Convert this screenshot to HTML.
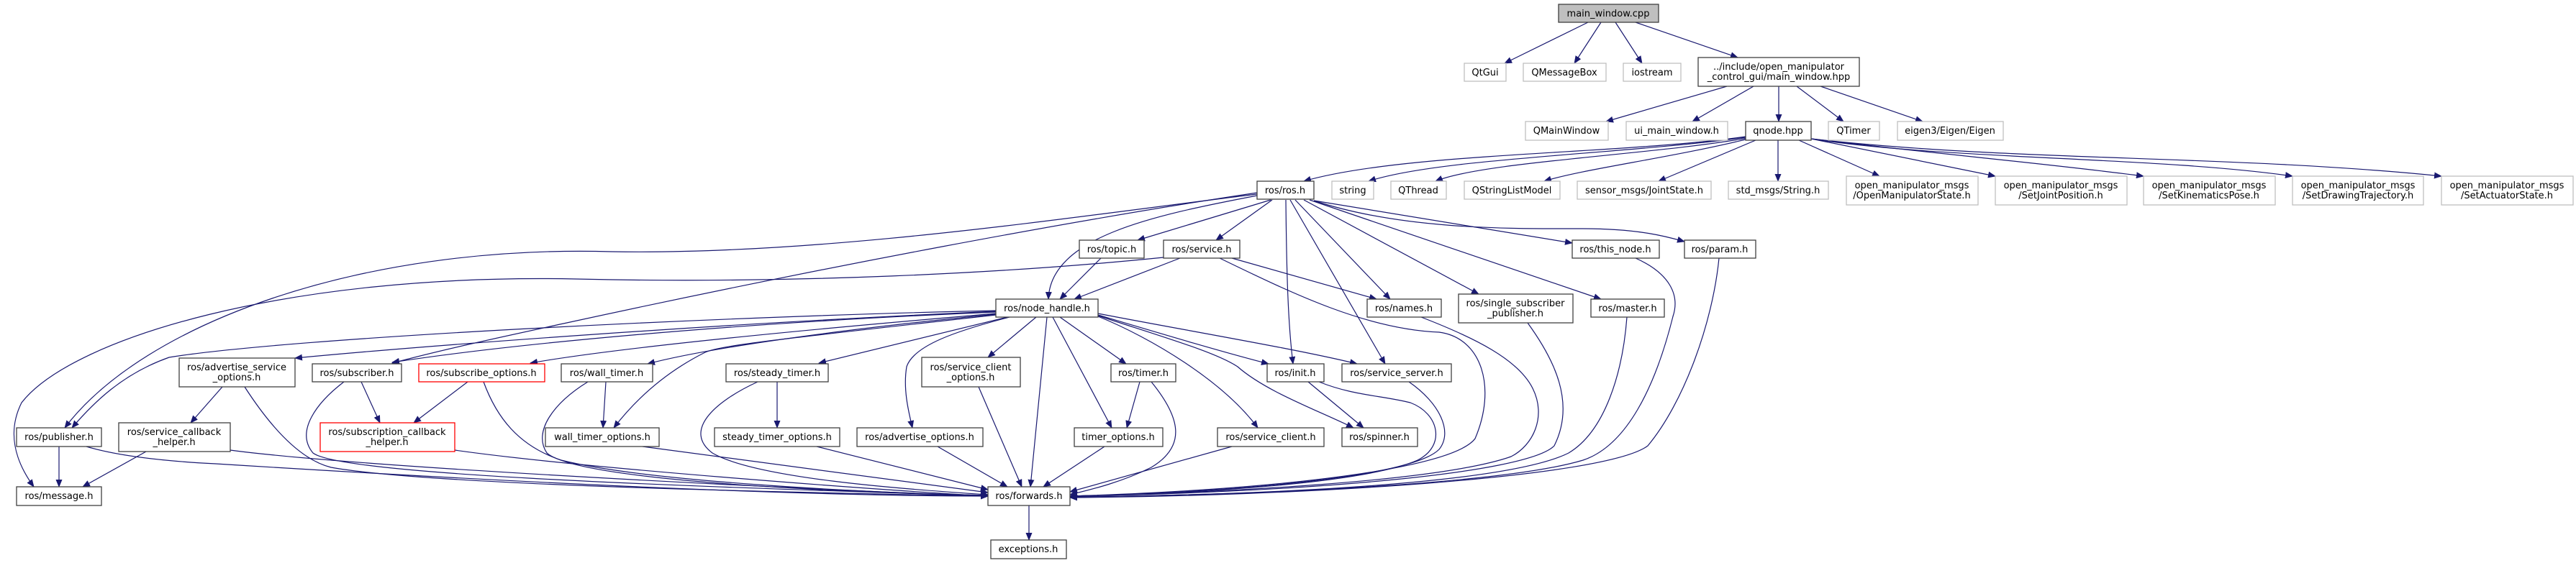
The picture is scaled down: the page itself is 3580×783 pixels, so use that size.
<!DOCTYPE html>
<html><head><meta charset="utf-8"><style>
html,body{margin:0;padding:0;background:#fff;width:3580px;height:783px;overflow:hidden}
svg{display:block}
text{font-family:"DejaVu Sans","Liberation Sans",sans-serif;font-size:13px;fill:#000;text-anchor:middle}
.g{fill:#fff;stroke:#bfbfbf;stroke-width:1.3}
.b{fill:#fff;stroke:#404040;stroke-width:1.3}
.r{fill:#fff;stroke:#ff0000;stroke-width:1.3}
path.e{fill:none;stroke:#191970;stroke-width:1.2;marker-end:url(#a)}
</style></head><body>
<svg width="3580" height="783" viewBox="0 0 3580 783" xmlns="http://www.w3.org/2000/svg">
<defs><marker id="a" markerWidth="11" markerHeight="9" refX="10" refY="4.5" orient="auto" markerUnits="userSpaceOnUse"><path d="M0,0 L11,4.5 L0,9z" fill="#191970"/></marker></defs>

<!-- edges -->
<path class="e" d="M2207,31 L2091,88"/>
<path class="e" d="M2225,31 L2188,88"/>
<path class="e" d="M2245,31 L2282,88"/>
<path class="e" d="M2273,31 L2415,80"/>
<path class="e" d="M2400,120 L2232,169"/>
<path class="e" d="M2437,120 L2352,169"/>
<path class="e" d="M2472,120 L2472,169"/>
<path class="e" d="M2497,120 L2562,169"/>
<path class="e" d="M2530,120 L2672,169"/>
<path class="e" d="M2426,190 C2250,215 1950,212 1812,252"/>
<path class="e" d="M2426,191 C2250,215 2000,220 1902,252"/>
<path class="e" d="M2428,192 C2300,215 2060,225 1995,252"/>
<path class="e" d="M2430,193 C2320,220 2200,235 2146,252"/>
<path class="e" d="M2440,195 L2305,252"/>
<path class="e" d="M2471,195 L2471,252"/>
<path class="e" d="M2500,195 L2612,245"/>
<path class="e" d="M2517,193 L2773,245"/>
<path class="e" d="M2517,193 C2700,215 2850,228 2979,245"/>
<path class="e" d="M2517,193 C2700,222 3000,218 3186,245"/>
<path class="e" d="M2517,193 C2800,225 3100,215 3393,245"/>

<path class="e" d="M1766,278 L1581,334"/>
<path class="e" d="M1768,278 L1690,334"/>
<path class="e" d="M1747,272 C1600,300 1460,330 1457,416"/>
<path class="e" d="M1826,279 L2185,338"/>
<path class="e" d="M1826,279 C1950,320 2100,318 2200,318 C2280,318 2320,330 2341,336"/>
<path class="e" d="M1800,278 L1932,416"/>
<path class="e" d="M1812,278 L2055,409"/>
<path class="e" d="M1820,278 L2225,416"/>
<path class="e" d="M1787,278 C1788,380 1790,450 1797,506"/>
<path class="e" d="M1793,278 L1925,506"/>
<path class="e" d="M1747,270 C1500,300 1150,355 850,350 C500,340 200,450 90,595"/>
<path class="e" d="M1747,268 C1500,305 1150,370 783,450 C700,468 620,485 545,505"/>
<path class="e" d="M1617,358 C1400,380 1100,395 800,388 C400,380 100,470 30,560 C10,600 20,640 47,677"/>

<path class="e" d="M1384,432 C1000,440 400,470 235,497 C170,520 130,560 100,595"/>
<path class="e" d="M1384,433 C1000,450 600,480 410,498"/>
<path class="e" d="M1384,434 C1000,450 700,480 545,504"/>
<path class="e" d="M1384,436 C1100,460 850,485 737,505"/>
<path class="e" d="M1384,437 C1150,460 980,485 900,506"/>
<path class="e" d="M1384,438 C1100,470 1000,480 980,490 C920,520 880,560 853,595"/>
<path class="e" d="M1400,441 L1138,505"/>
<path class="e" d="M1403,441 C1330,460 1270,480 1260,510 C1255,540 1262,570 1268,595"/>
<path class="e" d="M1440,441 L1373,497"/>
<path class="e" d="M1455,441 L1432,677"/>
<path class="e" d="M1463,441 L1545,595"/>
<path class="e" d="M1473,441 L1565,506"/>
<path class="e" d="M1526,438 C1600,460 1700,490 1763,506"/>
<path class="e" d="M1526,436 C1650,460 1800,485 1886,506"/>
<path class="e" d="M1526,440 C1600,470 1700,530 1748,595"/>
<path class="e" d="M1526,439 C1620,470 1690,490 1720,510 C1760,545 1830,570 1881,595"/>

<path class="e" d="M1640,359 L1493,416"/>
<path class="e" d="M1712,359 L1913,416"/>
<path class="e" d="M1695,359 C1800,410 1900,458 2000,462 C2060,470 2080,540 2050,610 C2020,650 1800,680 1487,690"/>
<path class="e" d="M1530,359 L1473,416"/>

<path class="e" d="M1975,441 C2050,470 2110,500 2130,540 C2150,580 2130,620 2100,635 C2000,670 1700,685 1487,690"/>
<path class="e" d="M2123,449 C2160,500 2190,560 2160,620 C2120,660 1800,685 1487,690"/>
<path class="e" d="M2261,441 C2255,520 2230,600 2180,630 C2100,670 1800,688 1487,691"/>
<path class="e" d="M2273,359 C2320,380 2335,410 2325,440 C2300,540 2260,620 2200,640 C2100,670 1800,688 1487,691"/>
<path class="e" d="M2389,359 C2380,450 2340,560 2290,620 C2230,665 1800,690 1487,692"/>
<path class="e" d="M1833,531 C1880,550 1920,550 1960,560 C2000,575 2010,620 1970,640 C1900,670 1700,685 1487,690"/>
<path class="e" d="M1818,531 L1895,595"/>
<path class="e" d="M1958,531 C2000,560 2020,600 2000,625 C1960,665 1700,685 1487,690"/>
<path class="e" d="M1584,531 L1566,595"/>
<path class="e" d="M1600,531 C1640,580 1650,620 1600,650 C1560,670 1520,680 1487,688"/>
<path class="e" d="M1712,621 L1487,684"/>
<path class="e" d="M1535,621 L1450,677"/>
<path class="e" d="M1303,621 L1400,677"/>
<path class="e" d="M1360,538 L1420,677"/>
<path class="e" d="M1080,531 L1080,595"/>
<path class="e" d="M1053,531 C990,560 950,600 990,630 C1050,665 1250,680 1373,688"/>
<path class="e" d="M1135,621 L1373,681"/>
<path class="e" d="M842,531 L838,595"/>
<path class="e" d="M817,531 C770,560 740,600 760,630 C800,665 1100,683 1373,689"/>
<path class="e" d="M893,621 L1373,685"/>
<path class="e" d="M650,531 L575,588"/>
<path class="e" d="M672,531 C690,580 720,620 780,640 C900,670 1200,685 1373,689"/>
<path class="e" d="M502,531 L528,588"/>
<path class="e" d="M478,531 C440,560 410,600 435,630 C480,665 1100,680 1373,690"/>
<path class="e" d="M632,626 C800,650 1200,680 1373,690"/>
<path class="e" d="M309,538 L265,588"/>
<path class="e" d="M340,538 C380,600 420,640 460,650 C600,675 1100,685 1373,690"/>
<path class="e" d="M203,628 L115,677"/>
<path class="e" d="M320,626 C500,650 1100,680 1373,690"/>
<path class="e" d="M82,621 L82,677"/>
<path class="e" d="M120,621 C150,630 200,640 300,645 C700,670 1100,690 1373,690"/>
<path class="e" d="M1430,703 L1430,751"/>

<!-- nodes -->
<rect x="2166" y="6" width="139" height="25" fill="#bfbfbf" stroke="#404040" stroke-width="1.3"/><text x="2235" y="23">main_window.cpp</text>
<rect class="g" x="2035" y="88" width="58" height="25"/><text x="2064" y="105">QtGui</text>
<rect class="g" x="2117" y="88" width="115" height="25"/><text x="2174" y="105">QMessageBox</text>
<rect class="g" x="2256" y="88" width="80" height="25"/><text x="2296" y="105">iostream</text>
<rect class="b" x="2360" y="80" width="224" height="40"/><text x="2472" y="97">../include/open_manipulator</text><text x="2472" y="111">_control_gui/main_window.hpp</text>
<rect class="g" x="2120" y="169" width="115" height="26"/><text x="2177" y="186">QMainWindow</text>
<rect class="g" x="2260" y="169" width="141" height="26"/><text x="2330" y="186">ui_main_window.h</text>
<rect class="b" x="2426" y="169" width="91" height="26"/><text x="2471" y="186">qnode.hpp</text>
<rect class="g" x="2541" y="169" width="71" height="26"/><text x="2576" y="186">QTimer</text>
<rect class="g" x="2637" y="169" width="147" height="26"/><text x="2710" y="186">eigen3/Eigen/Eigen</text>

<rect class="b" x="1747" y="252" width="79" height="25"/><text x="1786" y="269">ros/ros.h</text>
<rect class="g" x="1851" y="252" width="58" height="25"/><text x="1880" y="269">string</text>
<rect class="g" x="1933" y="252" width="77" height="25"/><text x="1971" y="269">QThread</text>
<rect class="g" x="2035" y="252" width="133" height="25"/><text x="2101" y="269">QStringListModel</text>
<rect class="g" x="2192" y="252" width="186" height="25"/><text x="2285" y="269">sensor_msgs/JointState.h</text>
<rect class="g" x="2402" y="252" width="139" height="25"/><text x="2471" y="269">std_msgs/String.h</text>
<rect class="g" x="2566" y="245" width="183" height="40"/><text x="2657" y="262">open_manipulator_msgs</text><text x="2657" y="276">/OpenManipulatorState.h</text>
<rect class="g" x="2773" y="245" width="183" height="40"/><text x="2864" y="262">open_manipulator_msgs</text><text x="2864" y="276">/SetJointPosition.h</text>
<rect class="g" x="2979" y="245" width="183" height="40"/><text x="3070" y="262">open_manipulator_msgs</text><text x="3070" y="276">/SetKinematicsPose.h</text>
<rect class="g" x="3186" y="245" width="182" height="40"/><text x="3277" y="262">open_manipulator_msgs</text><text x="3277" y="276">/SetDrawingTrajectory.h</text>
<rect class="g" x="3393" y="245" width="183" height="40"/><text x="3484" y="262">open_manipulator_msgs</text><text x="3484" y="276">/SetActuatorState.h</text>

<rect class="b" x="1500" y="334" width="90" height="25"/><text x="1545" y="351">ros/topic.h</text>
<rect class="b" x="1617" y="334" width="106" height="25"/><text x="1670" y="351">ros/service.h</text>
<rect class="b" x="2185" y="334" width="121" height="25"/><text x="2245" y="351">ros/this_node.h</text>
<rect class="b" x="2341" y="334" width="99" height="25"/><text x="2390" y="351">ros/param.h</text>

<rect class="b" x="1384" y="416" width="142" height="25"/><text x="1455" y="433">ros/node_handle.h</text>
<rect class="b" x="1900" y="416" width="103" height="25"/><text x="1951" y="433">ros/names.h</text>
<rect class="b" x="2027" y="409" width="159" height="40"/><text x="2106" y="426">ros/single_subscriber</text><text x="2106" y="440">_publisher.h</text>
<rect class="b" x="2211" y="416" width="102" height="25"/><text x="2262" y="433">ros/master.h</text>

<rect class="b" x="249" y="498" width="161" height="40"/><text x="329" y="515">ros/advertise_service</text><text x="329" y="529">_options.h</text>
<rect class="b" x="434" y="506" width="124" height="25"/><text x="496" y="523">ros/subscriber.h</text>
<rect class="r" x="582" y="506" width="175" height="25"/><text x="669" y="523">ros/subscribe_options.h</text>
<rect class="b" x="780" y="506" width="127" height="25"/><text x="843" y="523">ros/wall_timer.h</text>
<rect class="b" x="1009" y="506" width="142" height="25"/><text x="1080" y="523">ros/steady_timer.h</text>
<rect class="b" x="1281" y="497" width="137" height="41"/><text x="1349" y="515">ros/service_client</text><text x="1349" y="529">_options.h</text>
<rect class="b" x="1544" y="506" width="90" height="25"/><text x="1589" y="523">ros/timer.h</text>
<rect class="b" x="1761" y="506" width="79" height="25"/><text x="1800" y="523">ros/init.h</text>
<rect class="b" x="1865" y="506" width="152" height="25"/><text x="1941" y="523">ros/service_server.h</text>

<rect class="b" x="23" y="595" width="118" height="26"/><text x="82" y="612">ros/publisher.h</text>
<rect class="b" x="165" y="588" width="155" height="40"/><text x="242" y="605">ros/service_callback</text><text x="242" y="619">_helper.h</text>
<rect class="r" x="445" y="588" width="187" height="40"/><text x="538" y="605">ros/subscription_callback</text><text x="538" y="619">_helper.h</text>
<rect class="b" x="758" y="595" width="158" height="26"/><text x="837" y="612">wall_timer_options.h</text>
<rect class="b" x="993" y="595" width="174" height="26"/><text x="1080" y="612">steady_timer_options.h</text>
<rect class="b" x="1191" y="595" width="175" height="26"/><text x="1278" y="612">ros/advertise_options.h</text>
<rect class="b" x="1493" y="595" width="123" height="26"/><text x="1554" y="612">timer_options.h</text>
<rect class="b" x="1692" y="595" width="148" height="26"/><text x="1766" y="612">ros/service_client.h</text>
<rect class="b" x="1865" y="595" width="105" height="26"/><text x="1917" y="612">ros/spinner.h</text>

<rect class="b" x="23" y="677" width="118" height="26"/><text x="82" y="694">ros/message.h</text>
<rect class="b" x="1373" y="677" width="114" height="26"/><text x="1430" y="694">ros/forwards.h</text>
<rect class="b" x="1377" y="751" width="105" height="26"/><text x="1429" y="768">exceptions.h</text>
</svg>
</body></html>
